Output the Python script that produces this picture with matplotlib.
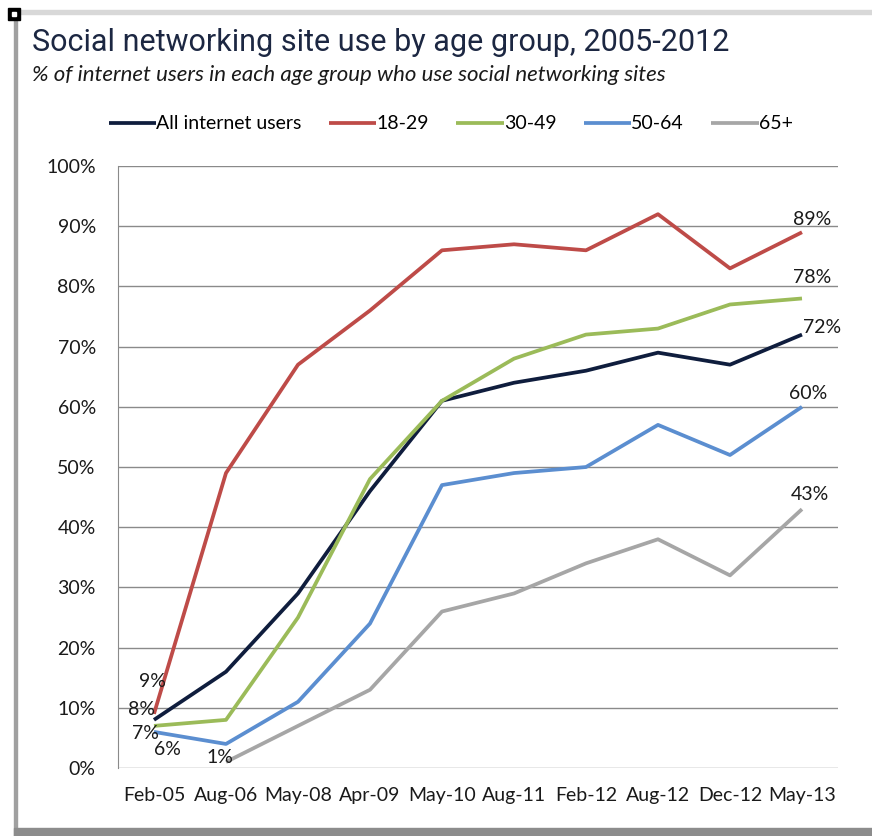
import numpy as np
import matplotlib
matplotlib.use("Agg")
import matplotlib.pyplot as plt
from matplotlib.patches import Rectangle

# survey dates
dates = ["Feb-05", "Aug-06", "May-08", "Apr-09", "May-10", "Aug-11",
         "Feb-12", "Aug-12", "Dec-12", "May-13"]

# % of internet users in each age group using social networking sites
all_users = [8, 16, 29, 46, 61, 64, 66, 69, 67, 72]
age_18_29 = [9, 49, 67, 76, 86, 87, 86, 92, 83, 89]
age_30_49 = [7, 8, 25, 48, 61, 68, 72, 73, 77, 78]
age_50_64 = [6, 4, 11, 24, 47, 49, 50, 57, 52, 60]
age_65 = [np.nan, 1, 7, 13, 26, 29, 34, 38, 32, 43]

series_names = ["All internet users", "18-29", "30-49", "50-64", "65+"]
y_ticks = [0, 10, 20, 30, 40, 50, 60, 70, 80, 90, 100]

FONT = ["Lato", "DejaVu Sans"]
plt.rcParams['font.family'] = FONT
FS = 14

fig = plt.figure(figsize=(8.72, 8.36), dpi=100)
ax = fig.add_axes([0.1353, 0.0813, 0.8257, 0.7201])

x = np.arange(len(dates))
colors = ["#0f1d3d", "#be4b48", "#9bbb59", "#5b8ed0", "#a6a6a6"]
data = [all_users, age_18_29, age_30_49, age_50_64, age_65]

for vals, name, c in zip(data, series_names, colors):
    ax.plot(x, vals, color=c, lw=2.7, label=name, solid_capstyle='butt')

ax.set_xlim(-0.5, len(dates) - 0.5)
ax.set_ylim(0, 100)
ax.set_yticks(y_ticks)
ax.set_yticklabels([f"{v}%" for v in y_ticks])
ax.set_xticks(x)
ax.set_xticklabels(dates)
ax.tick_params(axis='both', length=0, labelsize=FS, colors="#1a1a1a")
ax.tick_params(axis='y', pad=16)
ax.tick_params(axis='x', pad=14)
ax.grid(axis='y', color="#8a8a8a", lw=1.0)
ax.set_axisbelow(True)
for side in ["top", "right", "bottom"]:
    ax.spines[side].set_visible(False)
ax.spines["left"].set_color("#8a8a8a")

# value labels (offsets in pixels)
def label(i, vals, dx, dy, ha='center'):
    ax.annotate(f"{vals[i]:.0f}%", (x[i], vals[i]), xytext=(dx, -dy),
                textcoords='offset pixels', ha=ha, va='center',
                fontsize=FS, color="#1a1a1a")

label(0, age_18_29, -2, -32)
label(0, all_users, -12, -10)
label(0, age_30_49, -9, 8)
label(0, age_50_64, 13, 18)
label(1, age_65, -6, -5)
label(9, age_18_29, 10, -13)
label(9, age_30_49, 10, -21)
label(9, all_users, 20, -7)
label(9, age_50_64, 6, -13)
label(9, age_65, 8, -15)

leg = ax.legend(loc='center', bbox_to_anchor=(0.462, 1.07), ncol=5,
                frameon=False, fontsize=FS, handlelength=2.45,
                handletextpad=0.0, columnspacing=1.4)

# titles
fig.text(0.037, 0.949, "Social networking site use by age group, 2005-2012",
         fontsize=22, color="#1c2742", family=["Roboto", "DejaVu Sans"],
         va='center')
fig.text(0.037, 0.910, "% of internet users in each age group who use social networking sites",
         fontsize=16, style='italic', color="#1a1a1a", va='center')

# screenshot frame
fig.patches.append(Rectangle((14 / 872, 0), 3 / 872, 822 / 836,
                             transform=fig.transFigure, color="#a0a0a0", zorder=0))
fig.patches.append(Rectangle((14 / 872, 0), 858 / 872, 8 / 836,
                             transform=fig.transFigure, color="#8c8c8c", zorder=0))
fig.patches.append(Rectangle((14 / 872, 822 / 836), 858 / 872, 4 / 836,
                             transform=fig.transFigure, color="#d8d8d8", zorder=0))
fig.patches.append(Rectangle((8 / 872, 816 / 836), 12 / 872, 12 / 836,
                             transform=fig.transFigure, color="black", zorder=1))
fig.patches.append(Rectangle((12 / 872, 820 / 836), 4 / 872, 4 / 836,
                             transform=fig.transFigure, color="white", zorder=2))

fig.savefig("out.png", dpi=100)
